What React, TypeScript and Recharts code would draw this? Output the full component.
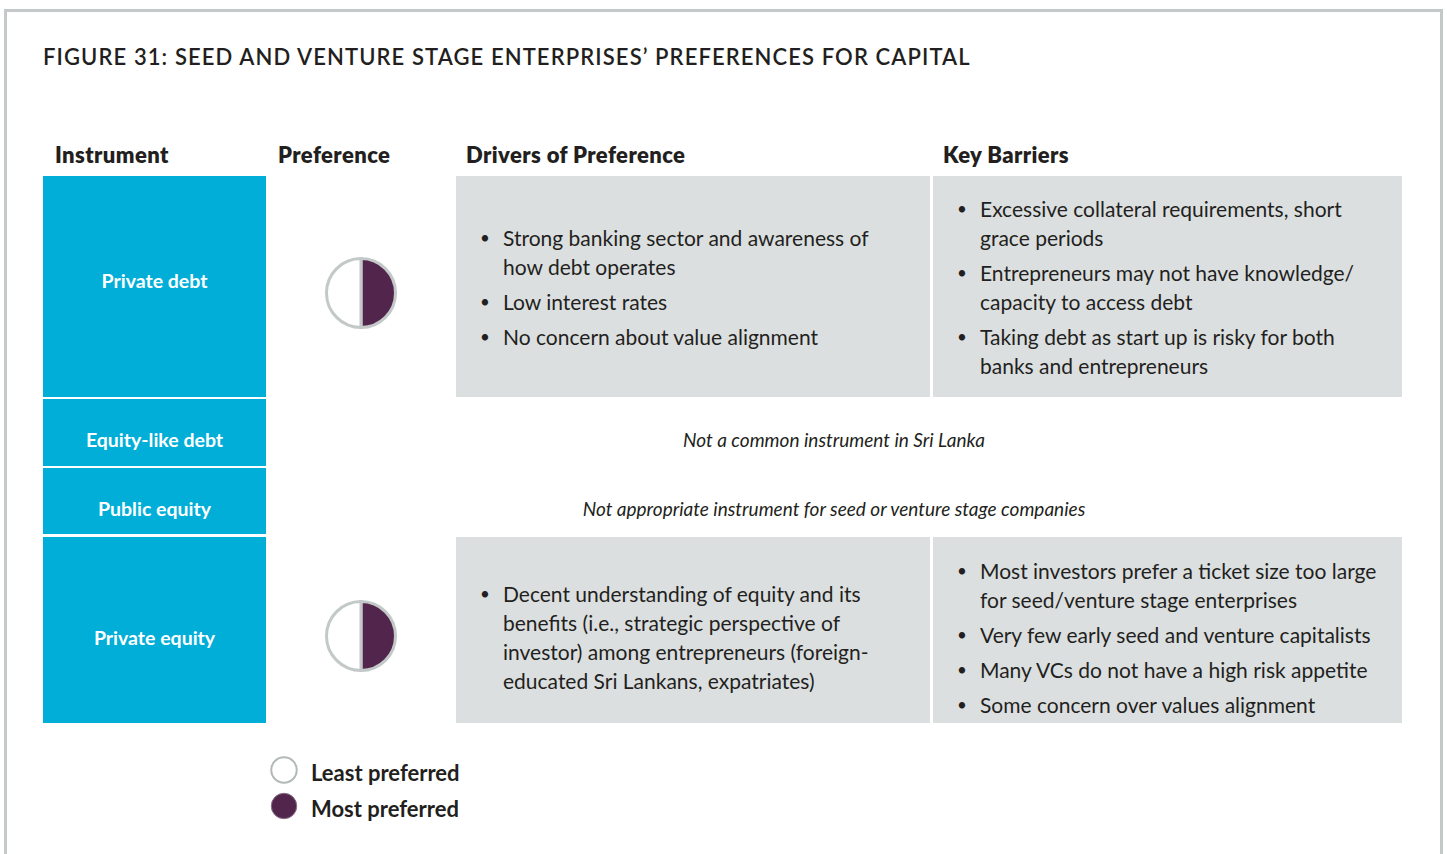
import { PieChart, Pie, Cell, Surface, Symbols } from "recharts";

// ---- data ----
const title = "FIGURE 31: SEED AND VENTURE STAGE ENTERPRISES\u2019 PREFERENCES FOR CAPITAL";
const columnHeaders = ["Instrument", "Preference", "Drivers of Preference", "Key Barriers"];
const instruments = ["Private debt", "Equity-like debt", "Public equity", "Private equity"];
// share of the preference circle that is filled (most preferred), null = no circle
const mostPreferredShare: (number | null)[] = [50, null, null, 50];
const notes: (string | null)[] = [
  null,
  "Not a common instrument in Sri Lanka",
  "Not appropriate instrument for seed or venture stage companies",
  null,
];
// each bullet is a list of its wrapped lines
const drivers: (string[][] | null)[] = [
  [
    ["Strong banking sector and awareness of", "how debt operates"],
    ["Low interest rates"],
    ["No concern about value alignment"],
  ],
  null,
  null,
  [
    [
      "Decent understanding of equity and its",
      "benefits (i.e., strategic perspective of",
      "investor) among entrepreneurs (foreign-",
      "educated Sri Lankans, expatriates)",
    ],
  ],
];
const barriers: (string[][] | null)[] = [
  [
    ["Excessive collateral requirements, short", "grace periods"],
    ["Entrepreneurs may not have knowledge/", "capacity to access debt"],
    ["Taking debt as start up is risky for both", "banks and entrepreneurs"],
  ],
  null,
  null,
  [
    ["Most investors prefer a ticket size too large", "for seed/venture stage enterprises"],
    ["Very few early seed and venture capitalists"],
    ["Many VCs do not have a high risk appetite"],
    ["Some concern over values alignment"],
  ],
];
const legendLabels = ["Least preferred", "Most preferred"];

// ---- layout ----
const BLUE = "#00aed8";
const GREY = "#dcdfe0";
const PURPLE = "#52264c";
const RING = "#c3c9c8";
const INK = "#231f20";
const FONT = "Lato, 'Open Sans', sans-serif";

const rowTop = [176, 399, 468, 537];
const rowH = [221, 67, 66, 186];
const labelShift = [-6, 7, 7, 7];
const textShift = [0, 0, 0, 7];
const pieShift = [6, 0, 0, 6];

const Bullets = ({ items }: { items: string[][] }) => (
  <div>
    {items.map((lines, i) => (
      <div key={i} style={{ position: "relative", paddingLeft: 20, marginTop: i ? 6 : 0 }}>
        <span style={{ position: "absolute", left: -3, top: 0, fontSize: 17 }}>•</span>
        {lines.map((l, j) => (
          <div key={j} style={{ whiteSpace: "nowrap" }}>{l}</div>
        ))}
      </div>
    ))}
  </div>
);

const PrefPie = ({ share }: { share: number }) => {
  const data = [
    { name: "Most preferred", value: share },
    { name: "Least preferred", value: 100 - share },
  ];
  return (
    <PieChart width={80} height={80}>
      <Pie
        data={data}
        dataKey="value"
        cx="50%"
        cy="50%"
        outerRadius={34.5}
        startAngle={90}
        endAngle={-270}
        stroke={RING}
        strokeWidth={3}
        isAnimationActive={false}
      >
        <Cell fill={PURPLE} />
        <Cell fill="#ffffff" />
      </Pie>
    </PieChart>
  );
};

const abs = (left: number, top: number, width: number, height: number) => ({
  position: "absolute" as const,
  left,
  top,
  width,
  height,
});

export default function App() {
  return (
    <div
      style={{
        position: "absolute",
        left: 0,
        top: 0,
        width: 1447,
        height: 854,
        overflow: "hidden",
        background: "#fff",
        fontFamily: FONT,
        color: INK,
      }}
    >
      <div style={{ ...abs(4, 9, 1439, 900), border: `3px solid ${RING}`, boxSizing: "border-box" }} />

      <div
        style={{
          position: "absolute",
          left: 43,
          top: 45,
          fontSize: 22,
          lineHeight: "24px",
          fontWeight: 600,
          letterSpacing: 1.1,
          whiteSpace: "nowrap",
        }}
      >
        {title}
      </div>

      {columnHeaders.map((h, i) => (
        <div
          key={h}
          style={{
            position: "absolute",
            left: [55, 278, 466, 943][i],
            top: 142,
            fontSize: 22,
            lineHeight: "26px",
            fontWeight: 800,
            letterSpacing: 0.4,
            whiteSpace: "nowrap",
          }}
        >
          {h}
        </div>
      ))}

      {instruments.map((name, r) => (
        <div key={name}>
          <div
            style={{
              ...abs(43, rowTop[r], 223, rowH[r]),
              background: BLUE,
              color: "#fff",
              display: "flex",
              alignItems: "center",
              justifyContent: "center",
              fontSize: 19.5,
              fontWeight: 700,
            }}
          >
            <span style={{ transform: `translateY(${labelShift[r]}px)` }}>{name}</span>
          </div>

          {mostPreferredShare[r] != null && (
            <div
              style={{
                ...abs(266, rowTop[r], 190, rowH[r]),
                display: "flex",
                alignItems: "center",
                justifyContent: "center",
              }}
            >
              <div style={{ transform: `translateY(${pieShift[r]}px)` }}>
                <PrefPie share={mostPreferredShare[r] as number} />
              </div>
            </div>
          )}

          {notes[r] && (
            <div
              style={{
                ...abs(266, rowTop[r], 1136, rowH[r]),
                display: "flex",
                alignItems: "center",
                justifyContent: "center",
                fontStyle: "italic",
                fontSize: 19,
              }}
            >
              <span style={{ transform: `translateY(${labelShift[r]}px)` }}>{notes[r]}</span>
            </div>
          )}

          {[drivers[r], barriers[r]].map((items, c) =>
            items ? (
              <div
                key={c}
                style={{
                  ...abs(c ? 933 : 456, rowTop[r], c ? 469 : 474, rowH[r]),
                  background: GREY,
                  display: "flex",
                  alignItems: "center",
                  paddingLeft: 27,
                  boxSizing: "border-box",
                  fontSize: 21,
                  lineHeight: "29px",
                }}
              >
                <div style={{ transform: `translateY(${textShift[r]}px)` }}>
                  <Bullets items={items} />
                </div>
              </div>
            ) : null
          )}
        </div>
      ))}

      {legendLabels.map((label, i) => (
        <div
          key={label}
          style={{ position: "absolute", left: 270, top: 756 + i * 36, display: "flex", alignItems: "center" }}
        >
          <Surface width={30} height={30} viewBox={{ x: 0, y: 0, width: 30, height: 30 }}>
            <Symbols
              cx={14}
              cy={14}
              type="circle"
              size={510}
              fill={i ? PURPLE : "#fff"}
              stroke={i ? "#8a7088" : "#b3b8b8"}
              strokeWidth={i ? 1 : 2}
            />
          </Surface>
          <span
            style={{ marginLeft: 11, fontSize: 22, fontWeight: 700, lineHeight: "28px", transform: "translateY(2px)" }}
          >
            {label}
          </span>
        </div>
      ))}
    </div>
  );
}
